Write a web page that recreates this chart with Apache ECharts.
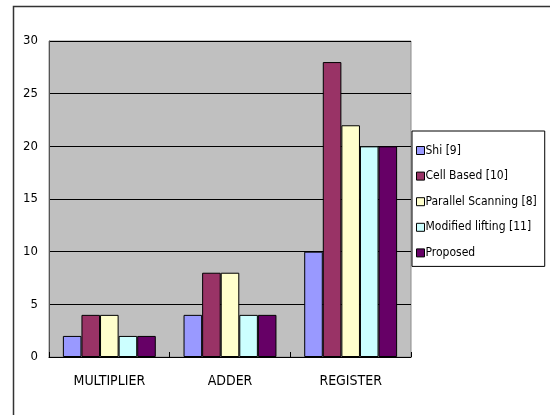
<!DOCTYPE html>
<html>
<head>
<meta charset="utf-8">
<script src="https://cdn.jsdelivr.net/npm/echarts@6/dist/echarts.min.js"></script>
<style>
html,body{margin:0;padding:0;background:#fff;}
#chart{width:550px;height:415px;}
</style>
</head>
<body>
<div id="chart"></div>
<script>
const categories = ['MULTIPLIER', 'ADDER', 'REGISTER'];
const seriesNames = ['Shi [9]', 'Cell Based [10]', 'Parallel Scanning [8]', 'Modified lifting [11]', 'Proposed'];
const shi = [2, 4, 10];
const cellBased = [4, 8, 28];
const parallelScanning = [4, 8, 22];
const modifiedLifting = [2, 4, 20];
const proposed = [2, 4, 20];
const yTicks = [0, 5, 10, 15, 20, 25, 30];
const colors = ['#9999FF', '#993366', '#FFFFCC', '#CCFFFF', '#660066'];

const seriesValues = [shi, cellBased, parallelScanning, modifiedLifting, proposed];
const FONT = "'DejaVu Sans Condensed', 'Liberation Sans', Arial, sans-serif";

const chart = echarts.init(document.getElementById('chart'), null, {renderer: 'canvas'});
chart.setOption({
  animation: false,
  backgroundColor: '#ffffff',
  textStyle: {fontFamily: FONT, color: '#000'},
  graphic: [{
    type: 'rect',
    shape: {x: 13.5, y: 6.5, width: 700, height: 600},
    style: {fill: 'none', stroke: '#333333', lineWidth: 1.5},
    silent: true,
    z: 100
  }],
  grid: {
    left: 49, top: 41, width: 362, height: 316,
    show: true, backgroundColor: '#c0c0c0', borderColor: '#8c8c8c', borderWidth: 1
  },
  legend: {
    orient: 'vertical',
    left: 412, top: 131,
    padding: [12, 8, 6, 4],
    itemGap: 10.6,
    itemWidth: 8, itemHeight: 8,
    icon: 'rect',
    borderColor: '#000', borderWidth: 1,
    backgroundColor: '#fff',
    data: seriesNames,
    itemStyle: {borderColor: '#000', borderWidth: 1},
    textStyle: {fontFamily: FONT, fontSize: 12, lineHeight: 15, color: '#000', padding: [0, 0, 0, -4]}
  },
  xAxis: {
    type: 'category',
    data: categories,
    axisLine: {lineStyle: {color: '#000', width: 1}},
    axisTick: {show: true, inside: true, length: 5, lineStyle: {color: '#000'}},
    axisLabel: {fontFamily: FONT, fontSize: 14, color: '#000', margin: 17}
  },
  yAxis: {
    type: 'value',
    min: yTicks[0], max: yTicks[yTicks.length - 1], interval: yTicks[1] - yTicks[0],
    axisLine: {show: true, lineStyle: {color: '#555', width: 1}},
    axisTick: {show: false},
    splitLine: {show: true, lineStyle: {color: '#000', width: 1}},
    axisLabel: {fontFamily: FONT, fontSize: 13, color: '#000', margin: 11}
  },
  series: seriesNames.map((name, i) => ({
    name: name,
    type: 'bar',
    data: seriesValues[i],
    barGap: '0%',
    barCategoryGap: '23%',
    itemStyle: {color: colors[i], borderColor: '#000', borderWidth: 1}
  }))
});
</script>
</body>
</html>
